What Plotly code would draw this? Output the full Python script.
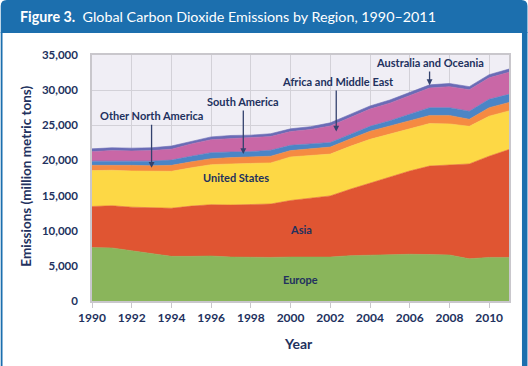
import plotly.graph_objects as go

years = list(range(1990, 2012))
europe = [7600, 7550, 7150, 6750, 6350, 6350, 6400, 6250, 6200, 6200, 6250,
          6300, 6250, 6450, 6550, 6550, 6650, 6600, 6550, 6000, 6200, 6200]
asia = [5850, 6000, 6200, 6500, 6850, 7150, 7300, 7400, 7500, 7600, 8050,
        8300, 8700, 9450, 10250, 11050, 11850, 12600, 12850, 13500, 14400, 15350]
united_states = [5100, 5050, 5150, 5200, 5250, 5450, 5700, 5850, 5850, 5850, 6200,
                 6100, 5950, 6100, 6200, 6150, 6000, 6050, 5800, 5350, 5700, 5500]
other_north_america = [750, 750, 800, 800, 850, 850, 850, 900, 900, 950, 900,
                       950, 1000, 1050, 1150, 1150, 1200, 1150, 1200, 1000, 1200, 1200]
south_america = [600, 600, 600, 650, 750, 800, 850, 800, 800, 850, 750,
                 700, 650, 650, 700, 750, 850, 1100, 1100, 1150, 1200, 1150]
africa_middle_east = [1350, 1450, 1450, 1500, 1550, 1750, 1850, 1900, 1900, 1950, 1950,
                      2050, 2350, 2400, 2450, 2500, 2700, 2800, 3000, 3050, 3050, 3150]
australia_oceania = [400, 400, 400, 400, 450, 400, 400, 450, 450, 400, 400,
                     400, 450, 450, 450, 450, 450, 450, 450, 450, 450, 450]

series = [
    ("Europe", europe, "#8ab55b"),
    ("Asia", asia, "#e05532"),
    ("United States", united_states, "#fdd845"),
    ("Other North America", other_north_america, "#f58a42"),
    ("South America", south_america, "#4b85c6"),
    ("Africa and Middle East", africa_middle_east, "#c967a6"),
    ("Australia and Oceania", australia_oceania, "#6a6cb6"),
]

y_ticks = list(range(0, 35001, 5000))
x_ticks = list(range(1990, 2011, 2))

NAVY = "#22315e"
BLUE = "#1c6fae"
FONT = "Lato"

W, H = 528, 366
L, R, T, B = 91.5, 509.5, 55, 301


def px(p):
    return (p - L) / (R - L)


def py(p):
    return (B - p) / (B - T)


fig = go.Figure()
for name, vals, color in series:
    fig.add_trace(go.Scatter(
        x=years, y=vals, name=name, stackgroup="one", mode="lines",
        line=dict(color=color, width=0.6), fillcolor=color,
        showlegend=False, hoverinfo="x+y+name",
    ))

annotations = []
# title
annotations.append(dict(
    xref="paper", yref="paper", x=px(17), y=py(16), xanchor="left", yanchor="middle",
    text="<b>Figure 3.</b>&nbsp; Global Carbon Dioxide Emissions by Region, 1990–2011",
    showarrow=False, font=dict(family=FONT, size=14.3, color="white"),
))
# axis titles
annotations.append(dict(
    xref="paper", yref="paper", x=px(25), y=py(176), xanchor="center", yanchor="middle",
    text="<b>Emissions (million metric tons)</b>", textangle=-90, showarrow=False,
    font=dict(family=FONT, size=13.5, color=NAVY),
))
annotations.append(dict(
    xref="paper", yref="paper", x=px(298), y=py(343), xanchor="center", yanchor="middle",
    text="<b>Year</b>", showarrow=False, font=dict(family=FONT, size=14, color=NAVY),
))

# labels inside layers
for txt, x, y in [("United States", 1997.25, 17600), ("Asia", 2000.5, 10200), ("Europe", 2000.5, 3050)]:
    annotations.append(dict(x=x, y=y, text=f"<b>{txt}</b>", showarrow=False,
                            font=dict(family=FONT, size=11, color=NAVY)))

# callouts with arrows: (text, x_text, y_text, x_arrow, head_y, tail_y)
callouts = [
    ("Other North America", 1993.0, 26450, 1993.0, 18950, 25300),
    ("South America", 1997.62, 28450, 1997.62, 20900, 27300),
    ("Africa and Middle East", 2002.4, 31300, 2002.3, 24100, 30150),
    ("Australia and Oceania", 2007.0, 34000, 2007.0, 30700, 32850),
]
for txt, xt, yt, xa, yh, yt2 in callouts:
    annotations.append(dict(x=xt, y=yt, text=f"<b>{txt}</b>", showarrow=False,
                            font=dict(family=FONT, size=11, color=NAVY)))
    annotations.append(dict(x=xa, y=yh, ax=xa, ay=yt2, axref="x", ayref="y", text="",
                            showarrow=True, arrowhead=2, arrowsize=0.9, arrowwidth=1.3,
                            arrowcolor="#33426e"))

shapes = [
    # header with rounded top corners
    dict(type="path", xref="paper", yref="paper", layer="above",
         path=(f"M {px(0)},{py(33)} L {px(0)},{py(6)} Q {px(0)},{py(0)} {px(6)},{py(0)} "
               f"L {px(522)},{py(0)} Q {px(528)},{py(0)} {px(528)},{py(6)} L {px(528)},{py(33)} Z"),
         fillcolor=BLUE, line=dict(width=0)),
    # left border
    dict(type="rect", xref="paper", yref="paper", layer="above",
         x0=px(0), x1=px(1.8), y0=py(32), y1=py(366), fillcolor=BLUE, line=dict(width=0)),
    # right border
    dict(type="rect", xref="paper", yref="paper", layer="above",
         x0=px(522.5), x1=px(528), y0=py(32), y1=py(366), fillcolor=BLUE, line=dict(width=0)),
]

fig.update_layout(
    width=W, height=H,
    margin=dict(l=L, r=W - R, t=T, b=H - B, pad=0),
    paper_bgcolor="white", plot_bgcolor="#f0eef5",
    font=dict(family=FONT, color=NAVY),
    annotations=annotations, shapes=shapes, showlegend=False,
)
fig.update_xaxes(
    range=[1990, 2011], tickvals=x_ticks, ticktext=[str(t) for t in x_ticks],
    showgrid=True, gridcolor="#d3d1d8", gridwidth=1,
    showline=True, linecolor="#c9c7cc", linewidth=1.5, mirror=True,
    ticks="outside", ticklen=5, tickcolor="#c9c7cc", tickwidth=1,
    tickfont=dict(family=FONT, size=12, color=NAVY, weight="bold"),
    zeroline=False,
)
fig.update_yaxes(
    range=[0, 35000], tickvals=y_ticks, ticktext=[f"{t:,}" for t in y_ticks],
    showgrid=True, gridcolor="#d3d1d8", gridwidth=1,
    showline=True, linecolor="#c9c7cc", linewidth=1.5, mirror=True,
    ticks="", ticklabelstandoff=10,
    tickfont=dict(family=FONT, size=11.5, color=NAVY, weight="bold"),
    zeroline=False,
)

fig.write_html("out.html", config={"displayModeBar": False},
               post_script="document.body.style.margin='0';document.body.style.overflow='hidden';")
